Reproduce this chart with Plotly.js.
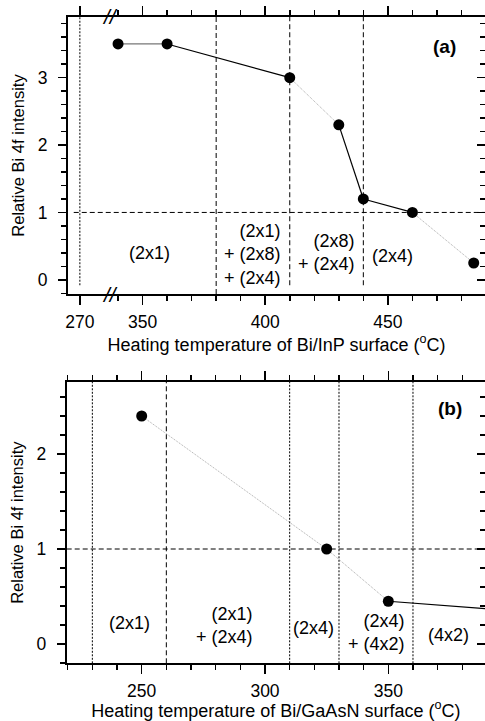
<!DOCTYPE html>
<html><head><meta charset="utf-8">
<script src="https://cdn.plot.ly/plotly-3.0.1.min.js"></script>
<style>html,body{margin:0;padding:0;overflow:hidden;background:#fff}#chart{width:490px;height:721px}</style>
</head><body><div id="chart"></div><script>
// ---------- panel (a): Bi/InP ----------
const tempA = [340, 360, 410, 430, 440, 460, 485];
const intA = [3.5, 3.5, 3.0, 2.3, 1.2, 1.0, 0.25];
const segStyleA = ['grey', 'solid', 'faint', 'solid', 'solid', 'faint'];
const tickValsA = [270, 350, 400, 450];
const tickTextA = ['270', '350', '400', '450'];
const minorTicksA = [340, 360, 370, 380, 390, 410, 420, 430, 440, 460, 470, 480];
const boundA = [270, 380, 410, 440];
const boundStyleA = ['dot', 'dash', 'dash', 'dash'];
const labelsA = ['(2x1)', '(2x1)<br>+ (2x8)<br>+ (2x4)', '(2x8)<br>+ (2x4)', '(2x4)'];
const labelXA = [353, 395, 425, 452];
const labelYA = [0.40, 0.37, 0.41, 0.35];

// ---------- panel (b): Bi/GaAsN ----------
const tempB = [250, 325, 350, 400];
const intB = [2.4, 1.0, 0.45, 0.35];
const segStyleB = ['faint', 'faint', 'solid'];
const boundB = [230, 260, 310, 330, 360];
const boundStyleB = ['dot', 'dash', 'dot', 'dot', 'dot'];
const labelsB = ['(2x1)', '(2x1)<br>+ (2x4)', '(2x4)', '(2x4)<br>+ (4x2)', '(4x2)'];
const labelXB = [245, 283.6, 319.8, 345.1, 374.2];
const labelYB = [0.22, 0.19, 0.17, 0.116, 0.095];

const refLevel = 1;

// broken axis for (a): values below the break are shifted right
const BREAK_SHIFT = 54.44;
const axX = t => (t < 300 ? t + BREAK_SHIFT : t);

const FONT = 'Liberation Sans, Arial, Helvetica, sans-serif';
const LBL = 18;
const dashMap = {dot: '2px,1.5px', dash: '5px,3px'};
const segLine = {
  solid: {color: '#000', width: 1.2, dash: 'solid'},
  grey: {color: '#777', width: 1.2, dash: 'solid'},
  faint: {color: '#aaa', width: 1, dash: '1px,1px'}
};

function segments(xs, ys, styles, xa, ya) {
  const tr = [];
  for (let i = 0; i < xs.length - 1; i++) {
    tr.push({type: 'scatter', mode: 'lines', x: [xs[i], xs[i + 1]], y: [ys[i], ys[i + 1]],
      xaxis: xa, yaxis: ya, line: segLine[styles[i]], hoverinfo: 'skip', showlegend: false});
  }
  tr.push({type: 'scatter', mode: 'markers', x: xs, y: ys, xaxis: xa, yaxis: ya,
    marker: {color: '#000', size: 11}, showlegend: false});
  return tr;
}
// empty helper traces so the right-hand frame axes get drawn
const frameTrace = (xa, ya) => ({type: 'scatter', mode: 'markers', x: [null], y: [null],
  xaxis: xa, yaxis: ya, hoverinfo: 'skip', showlegend: false});

const data = [
  ...segments(tempA.map(axX), intA, segStyleA, 'x', 'y'),
  ...segments(tempB, intB, segStyleB, 'x2', 'y2'),
  frameTrace('x', 'y3'), frameTrace('x2', 'y4')
];

const shapes = [];
boundA.forEach((b, i) => shapes.push({type: 'line', xref: 'x', yref: 'y', x0: axX(b), x1: axX(b),
  y0: i === 1 ? -0.21 : -0.08, y1: 3.9, line: {color: '#000', width: 1, dash: dashMap[boundStyleA[i]]}}));
shapes.push({type: 'line', xref: 'x', yref: 'y', x0: axX(boundA[0]) - 2.5, x1: 491, y0: refLevel, y1: refLevel,
  line: {color: '#000', width: 1, dash: dashMap.dash}});
boundB.forEach((b, i) => shapes.push({type: 'line', xref: 'x2', yref: 'y2 domain', x0: b, x1: b,
  y0: 0, y1: 1, line: {color: '#000', width: 1, dash: dashMap[boundStyleB[i]]}}));
shapes.push({type: 'line', xref: 'x2 domain', yref: 'y2', x0: 0, x1: 1, y0: refLevel, y1: refLevel,
  line: {color: '#000', width: 1, dash: dashMap.dash}});

const annotations = [];
labelsA.forEach((t, i) => annotations.push({xref: 'x', yref: 'y', x: labelXA[i], y: labelYA[i], text: t,
  showarrow: false, align: 'right', font: {size: LBL, family: FONT, color: '#000'}}));
labelsB.forEach((t, i) => annotations.push({xref: 'x2', yref: 'y2', x: labelXB[i], y: labelYB[i], text: t,
  showarrow: false, align: 'right', font: {size: LBL, family: FONT, color: '#000'}}));
annotations.push({xref: 'x', yref: 'y', x: 473, y: 3.46, text: '<b>(a)</b>', showarrow: false,
  font: {size: 19, family: FONT, color: '#000'}});
annotations.push({xref: 'x2', yref: 'y2', x: 375, y: 2.48, text: '<b>(b)</b>', showarrow: false,
  font: {size: 19, family: FONT, color: '#000'}});
[1, 0].forEach(yy => annotations.push({xref: 'x', yref: 'y domain', x: 336.7, y: yy, yanchor: 'middle',
  text: '<i>//</i>', showarrow: false, font: {size: 21, family: FONT, color: '#000'}}));

const base = {showline: true, linecolor: '#000', linewidth: 2, showgrid: false, zeroline: false,
  tickcolor: '#000', tickwidth: 1.5, tickfont: {size: 17.5, family: FONT, color: '#000'}};
const minorOut = {ticks: 'outside', ticklen: 5, tickwidth: 1.5, tickcolor: '#000', showgrid: false};
const minorIn = {ticks: 'inside', ticklen: 5, tickwidth: 1.5, tickcolor: '#000', showgrid: false};

const domXA = [68 / 490, 485 / 490], domYA = [(721 - 294) / 721, (721 - 17) / 721];
const domXB = [66.7 / 490, 485 / 490], domYB = [(721 - 663.3) / 721, (721 - 382) / 721];
const rXA = [319.6, 489.6], rYA = [-0.21, 3.9];
const rXB = [219.6, 389.2], rYB = [-0.203, 2.758];

const layout = {
  width: 490, height: 721, margin: {l: 0, r: 0, t: 0, b: 0},
  paper_bgcolor: '#fff', plot_bgcolor: '#fff', showlegend: false,
  font: {family: FONT, color: '#000'},
  xaxis: {...base, domain: domXA, range: rXA, anchor: 'y', tickmode: 'array', mirror: 'ticks',
    tickvals: tickValsA.map(axX), ticktext: tickTextA, ticks: 'outside', ticklen: 9,
    minor: {...minorOut, tickmode: 'array', tickvals: minorTicksA},
    ticklabelstandoff: 2,
    title: {text: 'Heating temperature of Bi/InP surface (<sup>o</sup>C)', font: {size: 18}, standoff: 1}},
  yaxis: {...base, domain: domYA, range: rYA, anchor: 'x', tickmode: 'array', tickvals: [0, 1, 2, 3],
    ticks: 'outside', ticklen: 8,
    minor: {...minorOut, dtick: 0.2, tick0: 0},
    ticklabelstandoff: 7,
    title: {text: 'Relative Bi 4f intensity', font: {size: 16.5}, standoff: 9}},
  yaxis3: {...base, overlaying: 'y', side: 'right', anchor: 'x', range: rYA, tickmode: 'array',
    tickvals: [0, 1, 2, 3], ticks: 'inside', ticklen: 8, showticklabels: false,
    minor: {...minorIn, dtick: 0.2, tick0: 0}},

  xaxis2: {...base, domain: domXB, range: rXB, anchor: 'y2', tickmode: 'linear', tick0: 0, dtick: 50,
    ticks: 'outside', ticklen: 9, mirror: 'ticks',
    minor: {...minorOut, dtick: 10, tick0: 0},
    ticklabelstandoff: 2,
    title: {text: 'Heating temperature of Bi/GaAsN surface (<sup>o</sup>C)', font: {size: 18}, standoff: 0}},
  yaxis2: {...base, domain: domYB, range: rYB, anchor: 'x2', tickmode: 'array', tickvals: [0, 1, 2],
    ticks: 'outside', ticklen: 8,
    minor: {...minorOut, dtick: 0.2, tick0: 0},
    ticklabelstandoff: 7,
    title: {text: 'Relative Bi 4f intensity', font: {size: 16.5}, standoff: 9}},
  yaxis4: {...base, overlaying: 'y2', side: 'right', anchor: 'x2', range: rYB, tickmode: 'array',
    tickvals: [0, 1, 2], ticks: 'inside', ticklen: 8, showticklabels: false,
    minor: {...minorIn, dtick: 0.2, tick0: 0}},
  shapes: shapes,
  annotations: annotations
};

Plotly.newPlot('chart', data, layout, {staticPlot: true, displayModeBar: false});
</script></body></html>
